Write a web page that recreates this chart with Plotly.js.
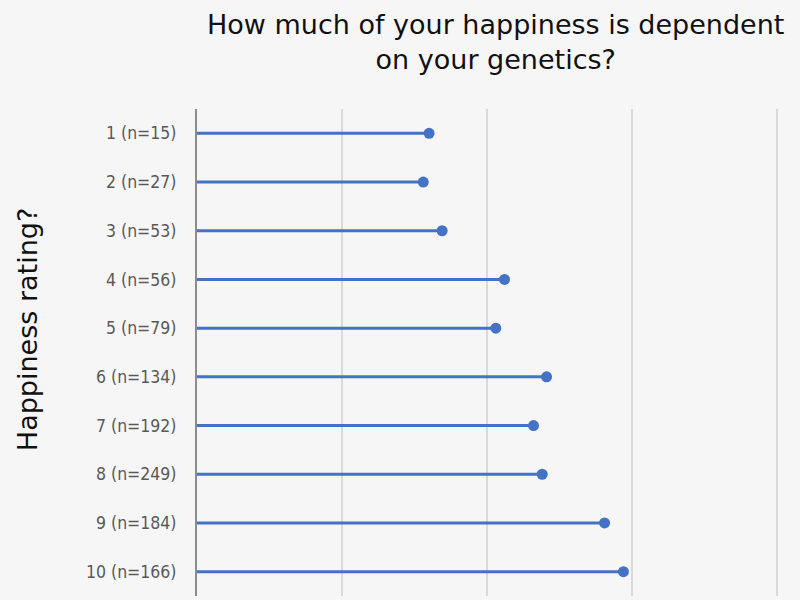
<!DOCTYPE html>
<html>
<head>
<meta charset="utf-8">
<script src="https://cdn.plot.ly/plotly-3.0.1.min.js"></script>
<style>html,body{margin:0;padding:0;background:#f6f6f6;}#chart{width:800px;height:600px;}</style>
</head>
<body>
<div id="chart"></div>
<script>
const categories = ["1 (n=15)", "2 (n=27)", "3 (n=53)", "4 (n=56)", "5 (n=79)", "6 (n=134)", "7 (n=192)", "8 (n=249)", "9 (n=184)", "10 (n=166)"];
const values = [16.0, 15.6, 16.9, 21.2, 20.6, 24.1, 23.2, 23.8, 28.1, 29.4];
const titleText = "How much of your happiness is dependent<br>on your genetics?";
const yTitle = "Happiness rating?";

const lx = [], ly = [];
categories.forEach((c, i) => { lx.push(0, values[i], null); ly.push(c, c, null); });

const color = "#4472C4";
const fontC = "DejaVu Sans Condensed, Liberation Sans Narrow, sans-serif";
const fontR = "DejaVu Sans, sans-serif";
const traces = [
  {type: "scatter", mode: "lines", x: lx, y: ly, line: {color: color, width: 3}, hoverinfo: "skip", cliponaxis: false},
  {type: "scatter", mode: "markers", x: values, y: categories, marker: {color: color, size: 11}, cliponaxis: false}
];
const layout = {
  width: 800, height: 600,
  paper_bgcolor: "#f6f6f6", plot_bgcolor: "#f6f6f6",
  showlegend: false,
  margin: {l: 197, r: 17, t: 109, b: 4},
  xaxis: {range: [0, 40.4], dtick: 10, tick0: 0, showticklabels: false, showgrid: true, gridcolor: "#d9d9d9", gridwidth: 1.5, zeroline: false, showline: false, fixedrange: true},
  yaxis: {type: "category", categoryorder: "array", categoryarray: categories, range: [9.5, -0.5],
          showgrid: false, zeroline: false, showline: true, linecolor: "#8c8c8c", linewidth: 2,
          ticks: "", ticklabelstandoff: 15, tickfont: {family: fontC, size: 17.5, color: "#595959"}},
  annotations: [
    {text: titleText, xref: "paper", yref: "paper", x: 0.5102, y: 1.1376, showarrow: false,
     xanchor: "center", yanchor: "middle", align: "center", font: {family: fontR, size: 27, color: "#111"}},
    {text: yTitle, xref: "paper", yref: "paper", x: -0.29, y: 0.546, showarrow: false, textangle: -90,
     xanchor: "center", yanchor: "middle", font: {family: fontR, size: 27, color: "#111"}}
  ]
};
Plotly.newPlot("chart", traces, layout, {displayModeBar: false, staticPlot: true});
</script>
</body>
</html>
